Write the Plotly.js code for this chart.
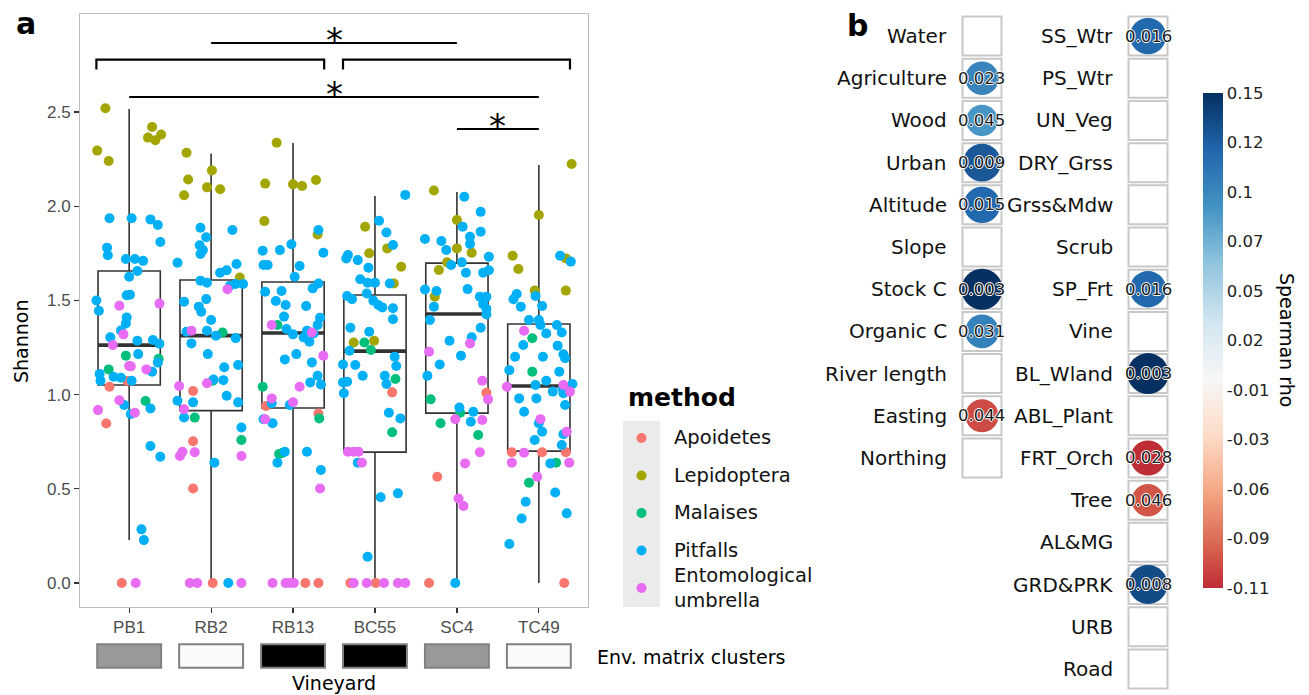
<!DOCTYPE html>
<html><head><meta charset="utf-8">
<script src="https://cdn.plot.ly/plotly-3.0.1.min.js"></script>
<style>body{margin:0;background:#fff}#chart{width:1309px;height:695px}</style>
</head><body><div id="chart"></div>
<script>
// ---------- Panel a data ----------
const vineyards = ['PB1','RB2','RB13','BC55','SC4','TC49'];
const envClusters = ['grey','white','black','black','grey','white'];
const methods = ['Apoidetes','Lepidoptera','Malaises','Pitfalls','Entomological<br>umbrella'];
const methodColors = ['#F8766D','#A3A500','#00BF7D','#00B0F6','#E76BF3'];

const boxQ1     = [1.051,0.915,0.929,0.695,0.902,0.700];
const boxMedian = [1.263,1.313,1.327,1.231,1.428,1.046];
const boxQ3     = [1.656,1.608,1.598,1.529,1.698,1.375];
const boxLow    = [0.228,0,0,0,0,0];
const boxHigh   = [2.516,2.280,2.335,2.054,2.075,2.219];

// points: [vineyard index (1-6), jitter offset, Shannon]
const apoidetes = [
 [1,-0.24,1.042],[1,-0.02,1.072],[1,-0.28,0.847],[1,-0.09,0],
 [2,-0.22,1.019],[2,-0.22,0.753],[2,-0.22,0.502],[2,0.02,0],
 [3,-0.33,0.94],[3,0.31,0.90],[3,0.15,0],[3,0.31,0],
 [4,0.21,1.012],[4,-0.30,0],[4,0.01,0],
 [5,0.36,1.01],[5,-0.24,0.564],[5,-0.34,0],
 [6,-0.33,0.694],[6,0.04,0.694],[6,0.33,0.694],[6,0.31,0]];
const lepidoptera = [
 [1,-0.29,2.52],[1,-0.39,2.295],[1,-0.25,2.24],[1,0.28,2.42],[1,0.23,2.364],[1,0.32,2.35],[1,0.39,2.38],
 [2,-0.30,2.284],[2,-0.28,2.142],[2,-0.33,2.058],[2,0.01,2.19],[2,-0.05,2.10],[2,0.11,2.09],[2,0.35,1.622],
 [3,-0.20,2.337],[3,-0.34,2.12],[3,0,2.116],[3,0.11,2.107],[3,0.28,2.139],[3,-0.35,1.921],[3,0.30,1.85],
 [4,-0.12,1.891],[4,-0.07,1.75],[4,0.15,1.776],[4,0.32,1.679],[4,0.23,1.59],[4,-0.26,1.277],[4,-0.01,1.286],
 [5,-0.28,2.083],[5,0,1.927],[5,0,1.776],[5,0.18,1.753],[5,-0.12,1.702],[5,-0.22,1.661],[5,-0.27,1.52],
 [6,0.40,2.224],[6,0,1.953],[6,-0.32,1.737],[6,-0.25,1.667],[6,0.33,1.723],[6,-0.05,1.552],[6,0.33,1.552]];
const malaises = [
 [1,-0.04,1.207],[1,-0.25,1.134],[1,0.36,1.19],[1,0.20,0.966],
 [2,0.14,1.33],[2,0.02,1.074],[2,-0.20,0.878],[2,0.37,0.759],
 [3,-0.19,1.37],[3,-0.37,1.042],[3,0.32,0.874],[3,-0.17,0.685],[3,-0.13,0.69],
 [4,-0.13,1.277],[4,-0.05,1.237],[4,0.25,1.083],[4,0.21,0.80],
 [5,-0.32,0.975],[5,0.04,0.904],[5,-0.20,0.848],[5,0.26,0.786],
 [6,-0.08,1.299],[6,-0.08,1.122],[6,0.21,0.639],[6,-0.12,0.533]];
const pitfalls = [
 [1,-0.24,1.936],[1,0.03,1.936],[1,0.26,1.93],[1,0.35,1.90],[1,0.38,1.81],[1,-0.27,1.78],[1,-0.26,1.74],
 [1,-0.04,1.72],[1,0.07,1.72],[1,0.17,1.71],[1,0.10,1.656],[1,0,1.626],[1,-0.03,1.527],[1,0.01,1.53],
 [1,-0.40,1.50],[1,-0.37,1.445],[1,-0.03,1.41],[1,-0.04,1.378],[1,-0.10,1.34],[1,-0.23,1.304],[1,0.10,1.286],
 [1,0.29,1.29],[1,0.37,1.27],[1,0.11,1.215],[1,0.35,1.17],[1,0.28,1.122],[1,-0.36,1.11],[1,-0.35,1.074],
 [1,-0.19,1.095],[1,-0.10,1.09],[1,0.03,1.074],[1,-0.06,0.945],[1,0.02,0.897],[1,0.26,0.927],[1,0.26,0.727],
 [1,0.38,0.67],[1,0.15,0.285],[1,0.18,0.228],
 [2,-0.13,1.886],[2,-0.06,1.835],[2,-0.14,1.793],[2,-0.10,1.767],[2,-0.13,1.746],[2,0.26,1.874],[2,-0.41,1.70],
 [2,0.31,1.693],[2,0.11,1.647],[2,0.19,1.66],[2,-0.13,1.605],[2,-0.05,1.594],[2,0.23,1.578],[2,0.39,1.587],
 [2,0.30,1.587],[2,-0.33,1.493],[2,-0.06,1.507],[2,-0.15,1.467],[2,-0.12,1.44],[2,0,1.396],[2,-0.30,1.334],
 [2,-0.24,1.272],[2,-0.05,1.339],[2,0.06,1.313],[2,0.30,1.30],[2,-0.04,1.215],[2,0.16,1.145],[2,0.33,1.157],
 [2,0.15,1.077],[2,0.03,1.08],[2,-0.41,0.968],[2,-0.22,0.959],[2,0.19,0.994],[2,0.33,0.959],[2,-0.33,0.879],
 [2,0.37,0.826],[2,0.04,0.639],[2,0.21,0],
 [3,0.31,1.874],[3,-0.02,1.798],[3,0.37,1.753],[3,-0.37,1.764],[3,-0.16,1.767],[3,-0.36,1.688],[3,-0.31,1.688],
 [3,0.08,1.683],[3,0.02,1.626],[3,0.31,1.59],[3,0.24,1.564],[3,-0.34,1.546],[3,-0.14,1.55],[3,-0.21,1.497],
 [3,-0.09,1.476],[3,0.16,1.47],[3,-0.11,1.414],[3,0.33,1.408],[3,0.30,1.37],[3,-0.08,1.348],[3,0,1.32],
 [3,0.17,1.339],[3,0.13,1.304],[3,0.20,1.281],[3,0.25,1.325],[3,0.04,1.215],[3,-0.10,1.187],[3,0.23,1.171],
 [3,0.30,1.10],[3,0.21,1.065],[3,0.34,1.054],[3,-0.26,0.954],[3,-0.04,0.945],[3,-0.36,0.869],[3,-0.25,0.848],
 [3,-0.10,0.697],[3,-0.19,0.639],[3,0.17,0.697],[3,0.34,0.60],
 [4,0.37,2.06],[4,0.05,1.923],[4,0.14,1.86],[4,0.22,1.794],[4,-0.33,1.741],[4,-0.35,1.723],[4,-0.21,1.714],
 [4,-0.08,1.674],[4,-0.18,1.612],[4,-0.09,1.594],[4,0,1.594],[4,0.18,1.59],[4,-0.34,1.523],[4,-0.28,1.507],
 [4,-0.10,1.537],[4,-0.02,1.499],[4,0.04,1.476],[4,0.09,1.463],[4,0.22,1.458],[4,0.22,1.40],[4,-0.30,1.355],
 [4,-0.07,1.334],[4,-0.31,1.233],[4,0.24,1.201],[4,0.26,1.152],[4,-0.39,1.16],[4,-0.24,1.157],[4,-0.15,1.10],
 [4,0.12,1.10],[4,0.14,1.056],[4,-0.39,1.065],[4,-0.34,1.069],[4,-0.38,1.007],[4,0.17,0.904],[4,0.31,0.874],
 [4,-0.21,0.639],[4,0.07,0.455],[4,0.28,0.476],[4,-0.09,0.14],
 [5,0.09,2.05],[5,0.29,1.97],[5,0.07,1.891],[5,0.16,1.838],[5,0.16,1.80],[5,0.29,1.865],[5,-0.39,1.826],
 [5,-0.19,1.815],[5,-0.13,1.768],[5,0.39,1.732],[5,0.06,1.702],[5,-0.07,1.688],[5,0.11,1.647],[5,0.32,1.647],
 [5,0.39,1.66],[5,-0.39,1.558],[5,-0.25,1.55],[5,0.13,1.56],[5,0.28,1.52],[5,0.36,1.52],[5,0.32,1.48],
 [5,0.36,1.455],[5,0.36,1.425],[5,-0.28,1.467],[5,-0.33,1.396],[5,0.29,1.355],[5,0.18,1.304],[5,-0.09,1.286],
 [5,0.05,1.207],[5,-0.21,1.16],[5,-0.36,1.10],[5,0.03,0.932],[5,0.20,0.909],[5,0.17,0.856],[5,-0.02,0],
 [6,0.26,1.737],[6,0.39,1.706],[6,-0.27,1.534],[6,-0.31,1.506],[6,-0.22,1.467],[6,-0.04,1.523],[6,0.04,1.47],
 [6,-0.12,1.396],[6,0,1.396],[6,0.02,1.37],[6,0.09,1.325],[6,0.22,1.37],[6,0.28,1.33],[6,-0.29,1.201],
 [6,-0.19,1.263],[6,0.05,1.201],[6,0.23,1.26],[6,0.30,1.214],[6,0.32,1.193],[6,-0.36,1.13],[6,0.25,1.122],
 [6,-0.04,1.051],[6,0.09,1.074],[6,0.17,1.016],[6,0.29,1.033],[6,0.30,1.007],[6,0.41,1.056],[6,-0.24,0.98],
 [6,-0.03,0.98],[6,0.32,0.945],[6,-0.18,0.909],[6,0,0.848],[6,0.04,0.803],[6,-0.05,0.759],[6,0.30,0.79],
 [6,0.28,0.733],[6,0.14,0.635],[6,0.20,0.481],[6,-0.16,0.432],[6,-0.21,0.343],[6,0.34,0.37],[6,-0.36,0.207]];
const umbrella = [
 [1,-0.12,1.472],[1,0.37,1.483],[1,-0.07,1.32],[1,-0.20,1.263],[1,0,1.152],[1,0.02,1.15],[1,0.21,1.134],
 [1,-0.12,0.97],[1,-0.38,0.918],[1,0.07,0.904],[1,0.08,0],
 [2,0.20,1.559],[2,-0.24,1.339],[2,-0.05,1.06],[2,-0.39,1.046],[2,-0.33,0.922],[2,-0.38,0.674],[2,-0.35,0.697],
 [2,-0.20,0.694],[2,0.37,0.674],[2,-0.26,0],[2,-0.17,0],[2,0.37,0],
 [3,-0.26,1.37],[3,0.23,1.33],[3,0.37,1.207],[3,0.08,1.042],[3,-0.26,0.98],[3,0,0.96],[3,-0.34,0.869],
 [3,0.33,0.502],[3,-0.25,0],[3,-0.09,0],[3,-0.04,0],[3,0.01,0],
 [4,-0.33,0.697],[4,-0.26,0.697],[4,-0.20,0.697],[4,-0.16,0.639],[4,-0.26,0],[4,-0.10,0],[4,0.11,0],[4,0.28,0],[4,0.37,0],
 [5,0.16,1.272],[5,-0.34,1.228],[5,0.31,1.074],[5,0.38,0.975],[5,-0.02,0.869],[5,0.31,0.865],[5,0.28,0.694],
 [5,0.10,0.635],[5,0.02,0.449],[5,0.08,0.409],
 [6,-0.18,1.339],[6,-0.39,1.042],[6,0.30,1.051],[6,0.38,1.016],[6,0.02,0.87],[6,0.34,0.803],[6,-0.18,0.692],
 [6,-0.33,0.639],[6,0.37,0.639],[6,-0.02,0.564]];
const methodPoints = [apoidetes, lepidoptera, malaises, pitfalls, umbrella];

// significance comparisons: [from group, to group]
const comparisons = [[2,5],[1,6],[5,6]];
const compLabels = ['*','*','*'];

// ---------- Panel b data ----------
const envVars1 = ['Water','Agriculture','Wood','Urban','Altitude','Slope','Stock C','Organic C','River length','Easting','Northing'];
const rho1  = [null,0.10,0.088,0.128,0.118,null,0.15,0.102,null,-0.098,null];
const pval1 = [null,'0.023','0.045','0.009','0.015',null,'0.003','0.031',null,'0.044',null];
const envVars2 = ['SS_Wtr','PS_Wtr','UN_Veg','DRY_Grss','Grss&Mdw','Scrub','SP_Frt','Vine','BL_Wland','ABL_Plant','FRT_Orch','Tree','AL&MG','GRD&PRK','URB','Road'];
const rho2  = [0.118,null,null,null,null,null,0.118,null,0.15,null,-0.11,-0.094,null,0.135,null,null];
const pval2 = ['0.016',null,null,null,null,null,'0.016',null,'0.003',null,'0.028','0.046',null,'0.008',null,null];
const cbTickVals = [-0.11,-0.084,-0.058,-0.032,-0.006,0.02,0.046,0.072,0.098,0.124,0.15];
const cbTickText = ['-0.11','-0.09','-0.06','-0.03','-0.01','0.02','0.05','0.07','0.1','0.12','0.15'];

// ---------- build ----------
const W = 1309, H = 695;
const px = v => v / W, py = v => 1 - v / H;
const FONT = 'DejaVu Sans, sans-serif';
const NARROW = 'Liberation Sans Narrow, Liberation Sans, Arial, sans-serif';
const esc = s => s.replace(/&/g, '&amp;');
const traces = [];
const idx = vineyards.map((_, i) => i + 1);

// cluster boxes
const clusterFill = {grey:'#999999', white:'#FAFAFA', black:'#000000'};
traces.push({type:'bar', x: idx, y: idx.map(() => 1), base: 0, width: 0.78,
  xaxis:'x', yaxis:'y3', marker:{color: envClusters.map(c => clusterFill[c]), line:{color:'#808080', width:2}},
  showlegend:false, hoverinfo:'skip'});

// boxplots
traces.push({type:'box', x: idx, q1: boxQ1, median: boxMedian, q3: boxQ3,
  lowerfence: boxLow, upperfence: boxHigh, width: 0.76, whiskerwidth: 0,
  fillcolor:'rgba(255,255,255,0)', line:{color:'#333333', width:1.6},
  boxpoints:false, showlegend:false, hoverinfo:'skip', xaxis:'x', yaxis:'y'});
const mx = [], my = [];
idx.forEach((v, i) => { mx.push(v - 0.38, v + 0.38, null); my.push(boxMedian[i], boxMedian[i], null); });
traces.push({type:'scatter', mode:'lines', x: mx, y: my, line:{color:'#333333', width:3.6},
  showlegend:false, hoverinfo:'skip', xaxis:'x', yaxis:'y'});

// points
methodPoints.forEach((pts, m) => {
  traces.push({type:'scatter', mode:'markers', name: methods[m],
    x: pts.map(p => p[0] + p[1]), y: pts.map(p => p[2]),
    marker:{color: methodColors[m], size: 10, opacity:1}, xaxis:'x', yaxis:'y', showlegend:false, hoverinfo:'skip'});
});

// custom legend (keys)
traces.push({type:'scatter', mode:'markers', x: methods.map(() => 0.5), y: methods.map((_, i) => i),
  xaxis:'x4', yaxis:'y4', marker:{color: methodColors, size: 10, opacity:1}, showlegend:false, hoverinfo:'skip'});

// significance lines
const shapes = [];
const annotations = [];
const compY = [2.866, 2.58, 2.41];
comparisons.forEach((c, i) => {
  traces.push({type:'scatter', mode:'lines', x:[c[0], c[1]], y:[compY[i], compY[i]],
    line:{color:'#000', width:2}, showlegend:false, hoverinfo:'skip', xaxis:'x', yaxis:'y'});
  annotations.push({xref:'x', yref:'y', x:(c[0]+c[1])/2, y:compY[i], text: compLabels[i],
    showarrow:false, xanchor:'center', yanchor:'middle', yshift:3, font:{family:FONT, size:34, color:'#000'}});
});
[[0.6,3.38],[3.61,6.38]].forEach(b => {
  traces.push({type:'scatter', mode:'lines', x:[b[0],b[0],b[1],b[1]], y:[2.725,2.778,2.778,2.725],
    line:{color:'#000', width:2.2}, showlegend:false, hoverinfo:'skip', xaxis:'x', yaxis:'y'});
});

// panel b cells
const cellX = [], cellY = [];
envVars1.forEach((_, i) => { cellX.push(1); cellY.push(i); });
envVars2.forEach((_, i) => { cellX.push(2); cellY.push(i); });
traces.push({type:'scatter', mode:'markers', x: cellX, y: cellY, xaxis:'x2', yaxis:'y2',
  marker:{symbol:'square', size:39, color:'#FFFFFF', opacity:1, line:{color:'#C8C8C8', width:2}},
  showlegend:false, hoverinfo:'skip'});

// circles
const cx = [], cy = [], cc = [];
rho1.forEach((r, i) => { if (r !== null) { cx.push(1); cy.push(i); cc.push(r); } });
rho2.forEach((r, i) => { if (r !== null) { cx.push(2); cy.push(i); cc.push(r); } });
const rdbu = [[0,'#BE2C36'],[0.0769,'#D6604D'],[0.1923,'#F4A582'],[0.3077,'#FDDBC7'],[0.4231,'#F7F7F7'],
  [0.5385,'#D1E5F0'],[0.6538,'#92C5DE'],[0.7692,'#4393C3'],[0.8846,'#2166AC'],[1,'#053061']];
traces.push({type:'scatter', mode:'markers', x: cx, y: cy, xaxis:'x2', yaxis:'y2',
  marker:{size: cc.map(r => 41 * Math.sqrt(Math.abs(r) / 0.15)), color: cc, colorscale: rdbu,
    cmin:-0.11, cmax:0.15, opacity:1, line:{width:0},
    showscale:true,
    colorbar:{x: px(1203), xanchor:'left', y: py(588), yanchor:'bottom', len: 495/H, lenmode:'fraction',
      thickness:20, thicknessmode:'pixels', outlinewidth:0, ticks:'', tickvals: cbTickVals, ticktext: cbTickText,
      tickfont:{family:FONT, size:16.5, color:'#222'}, xpad:0, ypad:0}},
  showlegend:false, hoverinfo:'skip'});

// panel b labels
envVars1.forEach((v, i) => annotations.push({xref:'x2', yref:'y2', x:1, y:i, text: esc(v), xanchor:'right', yanchor:'middle',
  xshift:-33, showarrow:false, font:{family:FONT, size:20, color:'#111'}}));
envVars2.forEach((v, i) => annotations.push({xref:'x2', yref:'y2', x:2, y:i, text: esc(v), xanchor:'right', yanchor:'middle',
  xshift:-33, showarrow:false, font:{family:FONT, size:20, color:'#111'}}));
const halo = '1px 0 0 #fff, -1px 0 0 #fff, 0 1px 0 #fff, 0 -1px 0 #fff';
pval1.forEach((p, i) => { if (p) annotations.push({xref:'x2', yref:'y2', x:1, y:i, text:p, showarrow:false,
  xanchor:'center', yanchor:'middle', font:{family:FONT, size:16.5, color:'#1a1a1a', shadow: halo}}); });
pval2.forEach((p, i) => { if (p) annotations.push({xref:'x2', yref:'y2', x:2, y:i, text:p, showarrow:false,
  xanchor:'center', yanchor:'middle', font:{family:FONT, size:16.5, color:'#1a1a1a', shadow: halo}}); });

// legend labels
methods.forEach((m, i) => annotations.push({xref:'paper', yref:'y4', x: px(672), y: i, text: m, xanchor:'left', yanchor:'middle',
  align:'left', showarrow:false, font:{family:FONT, size:19.5, color:'#111'}}));

// titles & panel letters
annotations.push(
  {xref:'paper', yref:'paper', x:px(14), y:py(4), xanchor:'left', yanchor:'top', text:'<b>a</b>', showarrow:false, font:{family:FONT, size:30, color:'#000'}},
  {xref:'paper', yref:'paper', x:px(845), y:py(6), xanchor:'left', yanchor:'top', text:'<b>b</b>', showarrow:false, font:{family:FONT, size:30, color:'#000'}},
  {xref:'paper', yref:'paper', x:px(21), y:py(341), xanchor:'center', yanchor:'middle', text:'Shannon', textangle:-90, showarrow:false, font:{family:FONT, size:19, color:'#000'}},
  {xref:'paper', yref:'paper', x:px(334), y:py(683), xanchor:'center', yanchor:'middle', text:'Vineyard', showarrow:false, font:{family:FONT, size:19, color:'#000'}},
  {xref:'paper', yref:'paper', x:px(595), y:py(657), xanchor:'left', yanchor:'middle', text:'Env. matrix clusters', showarrow:false, font:{family:FONT, size:19, color:'#000'}},
  {xref:'paper', yref:'paper', x:px(1287), y:py(340), xanchor:'center', yanchor:'middle', text:'Spearman rho', textangle:90, showarrow:false, font:{family:FONT, size:19, color:'#000'}},
  {xref:'paper', yref:'paper', x:px(626), y:py(397), xanchor:'left', yanchor:'middle', text:'<b>method</b>', showarrow:false, font:{family:FONT, size:25, color:'#000'}}
);
// legend key background
shapes.push({type:'rect', xref:'paper', yref:'paper', x0:px(623), x1:px(660), y0:py(607), y1:py(421),
  fillcolor:'#EBEBEB', line:{width:0}, layer:'below'});

const layout = {
  width: W, height: H, margin:{l:0, r:0, t:0, b:0},
  paper_bgcolor:'#fff', plot_bgcolor:'rgba(0,0,0,0)',
  font:{family:FONT, color:'#000'},
  showlegend:false,
  xaxis:{domain:[px(80), px(588)], range:[0.4, 6.6], tickvals: idx, ticktext: vineyards,
    showline:true, mirror:true, linecolor:'#BDBDBD', linewidth:1, showgrid:false, zeroline:false,
    ticks:'outside', ticklen:5, tickcolor:'#333', tickwidth:1.2,
    tickfont:{family:NARROW, size:17, color:'#4D4D4D'}, anchor:'y'},
  yaxis:{domain:[py(607), py(14)], range:[-0.127, 3.02], tickvals:[0,0.5,1,1.5,2,2.5],
    ticktext:['0.0','0.5','1.0','1.5','2.0','2.5'],
    showline:true, mirror:true, linecolor:'#BDBDBD', linewidth:1, showgrid:false, zeroline:false,
    ticks:'outside', ticklen:5, tickcolor:'#333', tickwidth:1.2,
    tickfont:{family:NARROW, size:17, color:'#4D4D4D'}, anchor:'x'},
  yaxis3:{domain:[py(669), py(643)], range:[-0.05, 1.05], visible:false, anchor:'x'},
  xaxis2:{domain:[px(940), px(1190)], range:[0.747, 2.253], visible:false, anchor:'y2'},
  yaxis2:{domain:[py(690), py(15)], range:[15.5, -0.5], visible:false, anchor:'x2'},
  xaxis4:{domain:[px(623), px(660)], range:[0, 1], visible:false, anchor:'y4'},
  yaxis4:{domain:[py(607), py(421)], range:[4.507, -0.453], visible:false, anchor:'x4'},
  shapes: shapes, annotations: annotations
};
Plotly.newPlot('chart', traces, layout, {displayModeBar:false, staticPlot:true});
</script></body></html>
